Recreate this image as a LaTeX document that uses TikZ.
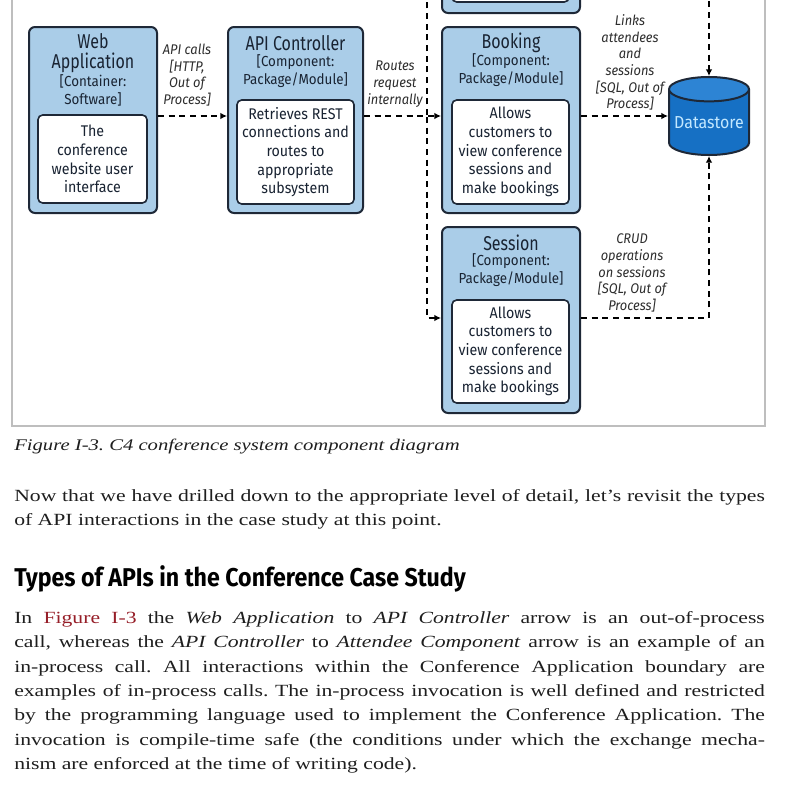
\documentclass[tikz,border=0pt]{standalone}
\usepackage{fontspec}
\setmainfont[FakeStretch=1.27]{Liberation Serif}
\newfontfamily\namefont[FakeStretch=0.8]{Fira Sans}
\newfontfamily\diagfont[FakeStretch=0.92]{Fira Sans}
\newfontfamily\headfont[FakeStretch=0.9]{Fira Sans}
\usetikzlibrary{arrows.meta,shapes.geometric}
\frenchspacing

\definecolor{compfill}{RGB}{170,205,232}
\definecolor{compline}{RGB}{30,40,55}
\definecolor{comptext}{RGB}{25,35,50}
\definecolor{reltext}{RGB}{45,45,45}
\definecolor{dsbody}{RGB}{22,112,196}
\definecolor{dsend}{RGB}{45,132,212}
\definecolor{dstext}{RGB}{195,232,255}
\definecolor{framegray}{RGB}{190,190,190}
\definecolor{bodytext}{RGB}{30,30,30}
\definecolor{linkred}{RGB}{150,30,40}

\tikzset{
  comp/.style={draw=compline, fill=compfill, line width=1.5pt, rounded corners=4.5pt, inner sep=0pt},
  compdesc/.style={draw=compline, fill=white, line width=1.2pt, rounded corners=3.5pt, inner sep=0pt,
    align=center, text=comptext, font=\diagfont\fontsize{11.6}{14}\selectfont},
  compname/.style={align=center, inner sep=0pt, text=comptext, font=\namefont\fontsize{15}{15}\selectfont},
  comptype/.style={align=center, inner sep=0pt, text=comptext, font=\diagfont\fontsize{10.9}{13.5}\selectfont},
  rellabel/.style={align=center, inner sep=0pt, text=reltext, font=\diagfont\itshape\fontsize{10.5}{12.5}\selectfont},
  relline/.style={draw=black, line width=1.1pt, dash pattern=on 4.5pt off 3.5pt, -{Latex[length=5pt,width=5pt]}},
}

\begin{document}
\begin{tikzpicture}[x=0.75pt, y=-0.75pt]
  \useasboundingbox (0,0) rectangle (800,800);

  % container boundary
  \draw[framegray, line width=1.2pt] (12,-20) rectangle (765,426);

  % components
  \node[comp, minimum width=96pt, minimum height=139.5pt] (webapp) at (93,120) {};
  \node[compname] (webappname) at (93,53) {Web\\Application};
  \node[comptype] (webapptype) at (93,90.5) {[Container:\\Software]};
  \node[compdesc, minimum width=81.75pt, minimum height=66pt] (webappdesc) at (92.5,159)
    {The\\conference\\website user\\interface};

  \node[comp, minimum width=101.25pt, minimum height=139.5pt] (apictrl) at (295.5,120) {};
  \node[compname] (apictrlname) at (295.5,43) {API Controller};
  \node[comptype] (apictrltype) at (295.5,71.5) {[Component:\\Package/Module]};
  \node[compdesc, minimum width=87.75pt, minimum height=78pt] (apictrldesc) at (295.5,152)
    {Retrieves REST\\connections and\\routes to\\appropriate\\subsystem};

  \node[comp, minimum width=103.5pt, minimum height=139.5pt] (attendee) at (511,-80) {};
  \node[compdesc, minimum width=87.75pt, minimum height=78pt] (attendeedesc) at (510.5,-50) {};

  \node[comp, minimum width=103.5pt, minimum height=139.5pt] (booking) at (511,120) {};
  \node[compname] (bookingname) at (511,43) {Booking};
  \node[comptype] (bookingtype) at (511,70.5) {[Component:\\Package/Module]};
  \node[compdesc, minimum width=87.75pt, minimum height=78pt] (bookingdesc) at (510.5,152)
    {Allows\\customers to\\view conference\\sessions and\\make bookings};

  \node[comp, minimum width=103.5pt, minimum height=139.5pt] (session) at (511,320) {};
  \node[compname] (sessionname) at (511,243) {Session};
  \node[comptype] (sessiontype) at (511,270.5) {[Component:\\Package/Module]};
  \node[compdesc, minimum width=87.75pt, minimum height=77.25pt] (sessiondesc) at (510.5,351.5)
    {Allows\\customers to\\view conference\\sessions and\\make bookings};

  \node[cylinder, shape border rotate=90, aspect=0.35, draw=compline, line width=1.5pt,
    cylinder uses custom fill, cylinder body fill=dsbody, cylinder end fill=dsend,
    minimum width=60pt, minimum height=58.5pt, inner sep=0pt, text=dstext,
    font=\diagfont\fontsize{13}{13}\selectfont, anchor=shape center] (datastore) at (709,116) {Datastore};

  % relationships
  \draw[relline] ([yshift=3pt]webapp.east) -- ([yshift=3pt]apictrl.west);
  \draw[relline] ([yshift=3pt]apictrl.east) -- ([yshift=3pt]booking.west);
  \draw[relline] ([yshift=3pt]apictrl.east) -- ++(63,0) |- ([yshift=1.5pt]session.west);
  \draw[relline] ([yshift=3pt]apictrl.east) -- ++(63,0) |- ([yshift=3pt]attendee.west);
  \draw[relline] ([yshift=3pt]booking.east) -- (datastore.west |- datastore.shape center);
  \draw[relline] ([yshift=1.5pt]session.east) -| (datastore.south);
  \draw[relline] ([yshift=3pt]attendee.east) -| (datastore.north);

  \node[rellabel] (apicalls) at (187,75) {API calls\\{[}HTTP,\\Out of\\Process{]}};
  \node[rellabel] (routes) at (395,84) {Routes\\request\\internally};
  \node[rellabel] (links) at (630,62.5) {Links\\attendees\\and\\sessions\\{[}SQL, Out of\\Process{]}};
  \node[rellabel] (crud) at (632,273) {CRUD\\operations\\on sessions\\{[}SQL, Out of\\Process{]}};

  % page text
  \node[anchor=west, inner sep=0pt, text=bodytext, font=\itshape\fontsize{12.2}{15}\selectfont] (caption) at (14,447)
    {Figure I-3. C4 conference system component diagram};
  \node[anchor=north west, inner sep=0pt, text width=563pt, align=justify, text=bodytext,
    font=\fontsize{12.8}{18.3}\selectfont] (intro) at (14,489)
    {Now that we have drilled down to the appropriate level of detail, let's revisit the types\linebreak
     of API interactions in the case study at this point.};
  \node[anchor=west, inner sep=0pt, text=black, font=\headfont\bfseries\fontsize{19.3}{20}\selectfont] (heading) at (14,579)
    {Types of APIs in the Conference Case Study};
  \node[anchor=north west, inner sep=0pt, text width=563pt, align=justify, text=bodytext,
    font=\fontsize{12.8}{18.3}\selectfont] (casestudy) at (14,611)
    {In \textcolor{linkred}{Figure I-3} the \textit{Web Application} to \textit{API Controller} arrow is an out-of-process\linebreak
     call, whereas the \textit{API Controller} to \textit{Attendee Component} arrow is an example of an\linebreak
     in-process call. All interactions within the Conference Application boundary are\linebreak
     examples of in-process calls. The in-process invocation is well defined and restricted\linebreak
     by the programming language used to implement the Conference Application. The\linebreak
     invocation is compile-time safe (the conditions under which the exchange mecha-\linebreak
     nism are enforced at the time of writing code).};
\end{tikzpicture}
\end{document}
